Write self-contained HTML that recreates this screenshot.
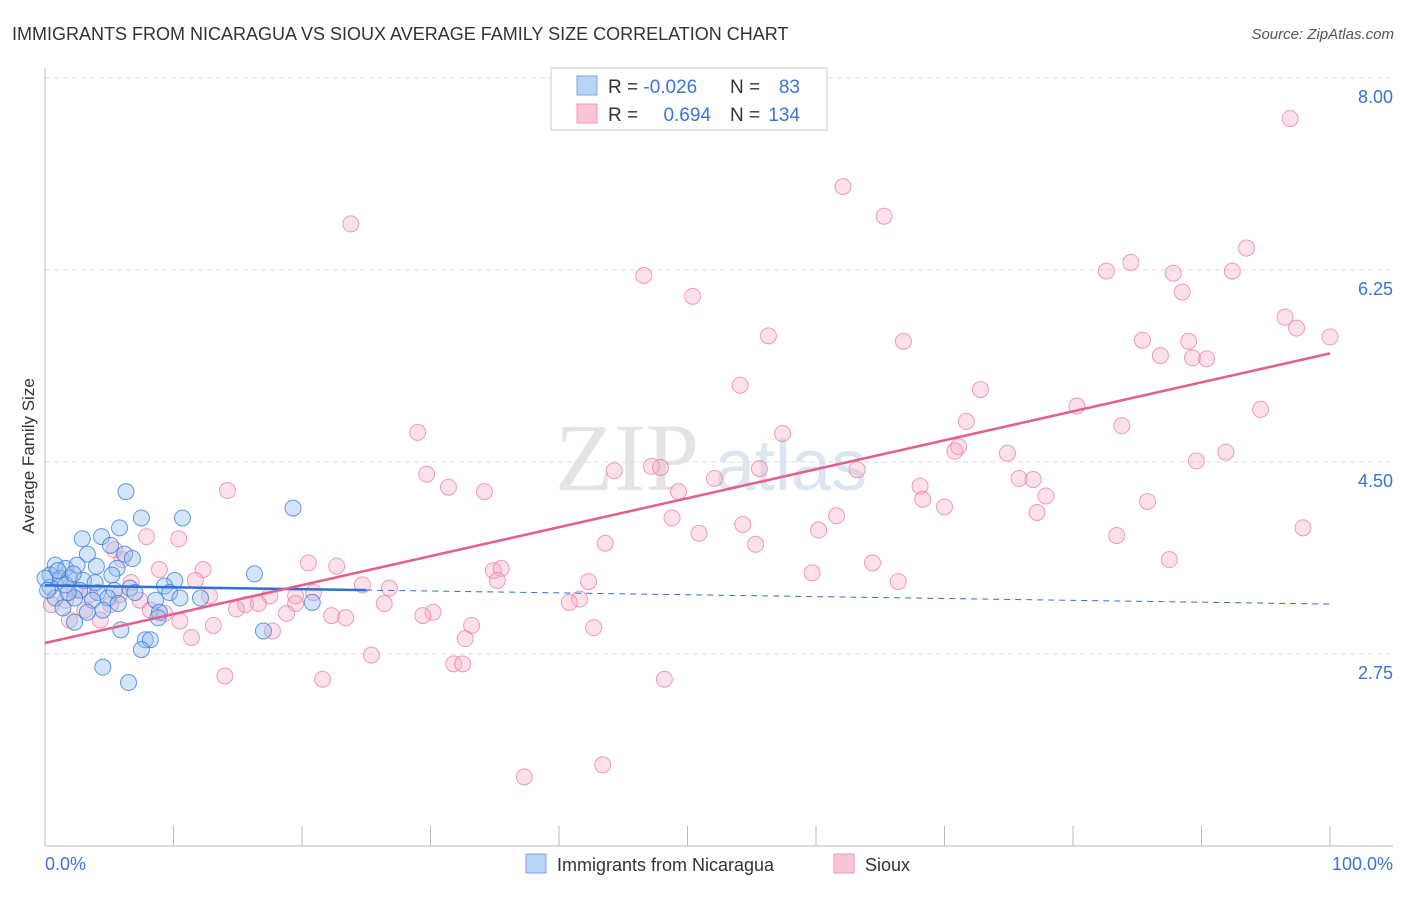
<!DOCTYPE html>
<html><head><meta charset="utf-8"><style>
body{margin:0;background:#fff;width:1406px;height:892px;overflow:hidden;font-family:"Liberation Sans",sans-serif}
</style></head><body>
<svg id="chart" width="1406" height="892" xmlns="http://www.w3.org/2000/svg" font-family="Liberation Sans, sans-serif">
<text x="12" y="40" font-size="18" fill="#333">IMMIGRANTS FROM NICARAGUA VS SIOUX AVERAGE FAMILY SIZE CORRELATION CHART</text>
<text x="1394" y="39" font-size="15" fill="#555" font-style="italic" text-anchor="end">Source: ZipAtlas.com</text>
<text x="555" y="490" font-size="96" fill="#e4e4e4" font-family="Liberation Serif, serif">ZIP</text>
<text x="715" y="490" font-size="72" fill="#dbe6f3">atlas</text>
<g id="grid"></g>
<g id="axes"></g>
<g id="pts"></g>
<g id="lines"></g>
<text transform="translate(34,456) rotate(-90)" font-size="17" fill="#333" text-anchor="middle">Average Family Size</text>
<text x="45" y="870" font-size="18" fill="#3a74d6">0.0%</text>
<text x="1393" y="870" font-size="18" fill="#3a74d6" text-anchor="end">100.0%</text>
<g>
<rect x="551" y="68" width="276" height="62" fill="#fff" stroke="#ccc"/>
<rect x="577" y="76" width="20" height="19" fill="#b9d3f5" stroke="#7aa6e6"/>
<rect x="577" y="104" width="20" height="19" fill="#f9c4d4" stroke="#ee9ab3"/>
<text x="608" y="93" font-size="19" fill="#333">R = <tspan fill="#3a74d6">-0.026</tspan></text>
<text x="730" y="93" font-size="19" fill="#333">N =</text><text x="800" y="93" font-size="19" fill="#3a74d6" text-anchor="end">83</text>
<text x="608" y="121" font-size="19" fill="#333">R = </text><text x="711" y="121" font-size="19" fill="#3a74d6" text-anchor="end">0.694</text>
<text x="730" y="121" font-size="19" fill="#333">N =</text><text x="800" y="121" font-size="19" fill="#3a74d6" text-anchor="end">134</text>
</g>
<g>
<rect x="526" y="854" width="20" height="19" fill="#b9d3f5" stroke="#7aa6e6"/>
<text x="557" y="871" font-size="18" fill="#333">Immigrants from Nicaragua</text>
<rect x="834" y="854" width="20" height="19" fill="#f9c4d4" stroke="#ee9ab3"/>
<text x="865" y="871" font-size="18" fill="#333">Sioux</text>
</g>
</svg>
<script>
const yTicks=[2.75,4.5,6.25,8.0];
const yTickLabels=["2.75","4.50","6.25","8.00"];
const blueX=[6.3,7.5,10.7,19.3,5.8,4.4,2.9,5.1,3.3,6.2,6.8,0.8,1.6,2.5,4.0,5.6,16.3,0.4,1.2,1.9,3.0,5.2,10.1,0.4,1.6,2.7,4.1,5.4,6.6,9.3,9.7,10.5,0.8,2.3,3.7,4.9,8.6,12.1,1.4,3.3,4.5,8.9,20.8,2.3,5.9,7.8,8.2,7.5,17.0,4.5,6.5,0,1.0,1.8,3.9,5.7,7.0,8.8,2.2,0.2];
const blueY=[4.23,3.99,3.99,4.08,3.90,3.82,3.80,3.74,3.66,3.66,3.62,3.56,3.53,3.56,3.55,3.53,3.48,3.47,3.44,3.44,3.42,3.47,3.42,3.36,3.38,3.33,3.31,3.33,3.35,3.37,3.31,3.26,3.26,3.26,3.24,3.26,3.24,3.26,3.17,3.13,3.15,3.13,3.22,3.04,2.97,2.88,2.88,2.79,2.96,2.63,2.49,3.44,3.51,3.31,3.40,3.21,3.31,3.08,3.48,3.33];
const pinkX=[96.9,62.1,65.3,23.8,93.5,46.6,82.6,84.5,87.8,92.4,88.5,50.4,96.5,97.4,100,56.3,66.8,85.4,89.0,86.8,89.3,90.4,54.1,72.8,80.3,94.6,71.7,83.8,29.0,57.4,70.8,71.1,74.9,91.9,89.6,47.2,47.9,44.3,55.6,63.2,29.7,52.1,75.8,76.9,68.1,31.4,34.2,49.3,14.2,77.9,68.3,85.8,70.0,77.2,48.8,61.6,54.3,97.9,60.2,50.9,7.9,10.4,83.4,43.6,55.3,87.5,20.5,22.7,64.4,12.3,8.9,34.9,35.5,59.7,35.2,42.3,66.4,24.7,26.8,6.7,12.8,20.9,19.5,17.5,41.6,40.8,26.4,19.5,16.6,15.6,14.9,18.8,30.2,29.4,22.3,23.4,9.3,10.5,13.1,4.3,33.2,42.7,17.7,32.7,11.4,25.4,31.8,32.5,14.0,21.6,48.2,43.4,37.3,0.5,1.6,2.3,3.1,3.5,5.1,5.8,1.2,7.4,8.2,5.4,6.0,1.9,11.7];
const pinkY=[7.63,7.01,6.74,6.67,6.45,6.20,6.24,6.32,6.22,6.24,6.05,6.01,5.82,5.72,5.64,5.65,5.60,5.61,5.60,5.47,5.45,5.44,5.20,5.16,5.01,4.98,4.87,4.83,4.77,4.76,4.60,4.64,4.58,4.59,4.51,4.46,4.45,4.42,4.44,4.43,4.39,4.35,4.35,4.34,4.28,4.27,4.23,4.23,4.24,4.19,4.16,4.14,4.09,4.04,3.99,4.01,3.93,3.90,3.88,3.85,3.82,3.80,3.83,3.76,3.75,3.61,3.58,3.55,3.58,3.52,3.52,3.51,3.53,3.49,3.42,3.41,3.41,3.38,3.35,3.40,3.28,3.31,3.28,3.28,3.25,3.22,3.21,3.21,3.21,3.20,3.16,3.12,3.13,3.10,3.10,3.08,3.12,3.05,3.01,3.06,3.01,2.99,2.96,2.89,2.90,2.74,2.66,2.66,2.55,2.52,2.52,1.74,1.63,3.20,3.24,3.33,3.15,3.29,3.20,3.29,3.42,3.24,3.15,3.70,3.61,3.06,3.42];
const blueFit=[3.375,-0.0017];
const pinkFit=[2.85,0.0264];
const NS="http://www.w3.org/2000/svg";
function sx(p){return 45+p*12.85;}
function sy(v){return 78+(8-v)/1.75*192;}
function mk(t,a,parent){const e=document.createElementNS(NS,t);for(const k in a)e.setAttribute(k,a[k]);parent.appendChild(e);return e;}
const grid=document.getElementById('grid'),axes=document.getElementById('axes'),pts=document.getElementById('pts'),lines=document.getElementById('lines');
yTicks.forEach((v,i)=>{
 const l=mk('line',{x1:45,x2:1393,y1:sy(v),y2:sy(v),stroke:'#ddd','stroke-dasharray':'5,4'},grid);
 
 
 const t=mk('text',{x:1393,y:sy(v)+25,'font-size':18,fill:'#3a74d6','text-anchor':'end'},grid);
 t.textContent=yTickLabels[i];
 
 
});
const ya=mk('line',{x1:45,x2:45,y1:68,y2:846,stroke:'#bbb'},axes);


const xa=mk('line',{x1:45,x2:1393,y1:846,y2:846,stroke:'#bbb'},axes);


for(let i=1;i<=10;i++){
 const tk=mk('line',{x1:sx(i*10),x2:sx(i*10),y1:826,y2:846,stroke:'#bbb'},axes);
 
 
}
pinkX.forEach((x,i)=>{
 const c=mk('circle',{cx:sx(x),cy:sy(pinkY[i]),r:8,fill:'rgba(246,170,195,0.35)',stroke:'rgba(232,120,155,0.7)','stroke-width':1},pts);
 
 
});
blueX.forEach((x,i)=>{
 const c=mk('circle',{cx:sx(x),cy:sy(blueY[i]),r:8,fill:'rgba(150,190,240,0.4)',stroke:'rgba(50,120,220,0.75)','stroke-width':1},pts);
 
 
});
const bl=mk('line',{x1:sx(0),y1:sy(blueFit[0]),x2:sx(25),y2:sy(blueFit[0]+blueFit[1]*25),stroke:'#2f6fd8','stroke-width':2.5},lines);


const bd=mk('line',{x1:sx(25),y1:sy(blueFit[0]+blueFit[1]*25),x2:sx(100),y2:sy(blueFit[0]+blueFit[1]*100),stroke:'#2f6fd8','stroke-width':1,'stroke-dasharray':'6,5'},lines);


const pl=mk('line',{x1:sx(0),y1:sy(pinkFit[0]),x2:sx(100),y2:sy(pinkFit[0]+pinkFit[1]*100),stroke:'#e4608c','stroke-width':2.5},lines);


</script>
</body></html>
